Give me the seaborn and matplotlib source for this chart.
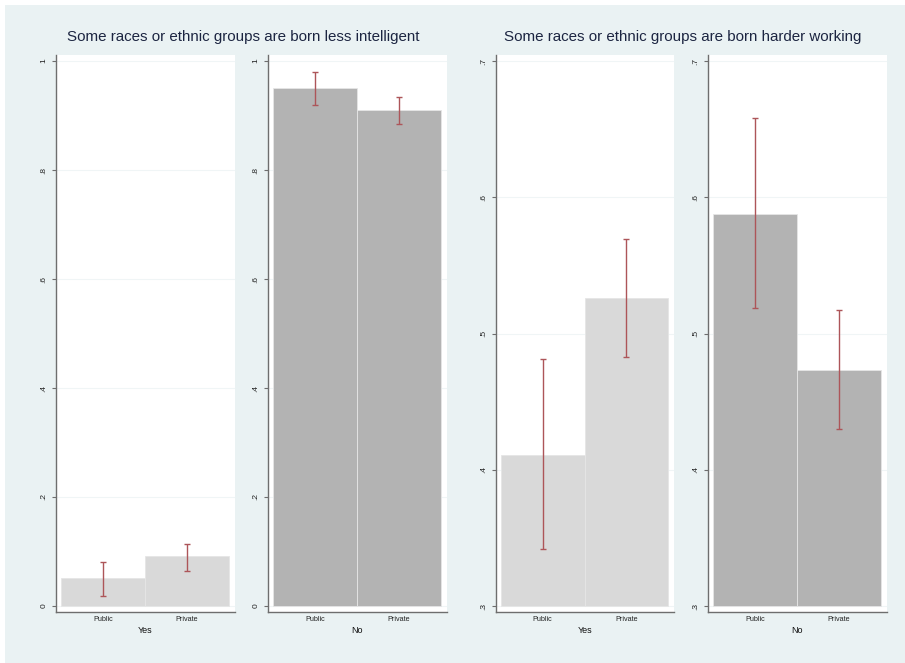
import matplotlib.pyplot as plt
import matplotlib.patches as mpatches
import seaborn as sns
import pandas as pd

sns.set_theme(style="white")
plt.rcParams['font.family'] = ['Liberation Sans', 'DejaVu Sans']

# ----- data -----
sectors = ["Public", "Private"]
titles = ["Some races or ethnic groups are born less intelligent",
          "Some races or ethnic groups are born harder working"]
groups = ["Yes", "No"]

intel_yes = [0.051, 0.091]
intel_yes_lo = [0.019, 0.065]
intel_yes_hi = [0.081, 0.114]
intel_no = [0.950, 0.910]
intel_no_lo = [0.919, 0.884]
intel_no_hi = [0.980, 0.934]

work_yes = [0.411, 0.526]
work_yes_lo = [0.342, 0.483]
work_yes_hi = [0.481, 0.569]
work_no = [0.588, 0.473]
work_no_lo = [0.519, 0.430]
work_no_hi = [0.658, 0.517]

intel_ticks = [0, 0.2, 0.4, 0.6, 0.8, 1.0]
intel_ticklabels = ["0", ".2", ".4", ".6", ".8", "1"]
work_ticks = [0.3, 0.4, 0.5, 0.6, 0.7]
work_ticklabels = [".3", ".4", ".5", ".6", ".7"]

BG = "#eaf2f3"
BAR = {"Yes": "#d9d9d9", "No": "#b3b3b3"}
ERR = "#ad5559"
W, H = 905, 663

fig = plt.figure(figsize=(W / 100, H / 100), dpi=100, facecolor="white")
fig.patches.append(mpatches.Rectangle((5 / W, 0), 1, 1 - 5 / H, transform=fig.transFigure,
                                      facecolor=BG, edgecolor="none", zorder=-10))


def panel(x0, x1, vals, lo, hi, group, ticks, ticklabels, base, top):
    ax = fig.add_axes([x0 / W, (H - 612) / H, (x1 - x0) / W, 557 / H])
    df = pd.DataFrame({"sector": sectors, "value": vals})
    sns.barplot(data=df, x="sector", y="value", order=sectors, color=BAR[group],
                width=1.0, saturation=1, edgecolor="#e6e6e6", linewidth=0.6, ax=ax, zorder=2)
    # bars start at the axis base like Stata
    for p in ax.patches:
        p.set_y(base)
        p.set_height(p.get_height() - base)
    err = [[v - l for v, l in zip(vals, lo)], [h - v for v, h in zip(vals, hi)]]
    ax.errorbar(range(len(sectors)), vals, yerr=err, fmt="none", ecolor=ERR,
                elinewidth=1.0, capsize=2.5, capthick=1.0, zorder=3)
    pad = (top - base) * 6 / 545
    ax.set_ylim(base - pad, top + pad)
    ax.set_xlim(-0.5 - 5 / 84, 1.5 + 6 / 84)
    ax.set_facecolor("white")
    ax.set_yticks(ticks)
    ax.set_yticklabels(ticklabels, rotation=90, va="center", fontsize=6, color="#222222")
    ax.set_xticks(range(len(sectors)))
    ax.set_xticklabels(sectors, fontsize=5.2, color="#222222")
    ax.set_xlabel(group, fontsize=6.5, color="#111111", labelpad=2)
    ax.set_ylabel("")
    ax.yaxis.grid(True, color="#f0f5f6", linewidth=0.8, zorder=0)
    ax.set_axisbelow(True)
    sns.despine(ax=ax, top=True, right=True)
    for s in ["left", "bottom"]:
        ax.spines[s].set_color("#6e6e6e")
        ax.spines[s].set_linewidth(1.0)
    ax.tick_params(axis="y", length=3, width=0.8, color="#6e6e6e", pad=3, left=True)
    ax.tick_params(axis="x", length=0, pad=3)
    return ax


panel(56, 235, intel_yes, intel_yes_lo, intel_yes_hi, "Yes", intel_ticks, intel_ticklabels, 0.0, 1.0)
panel(268, 447, intel_no, intel_no_lo, intel_no_hi, "No", intel_ticks, intel_ticklabels, 0.0, 1.0)
panel(496, 674, work_yes, work_yes_lo, work_yes_hi, "Yes", work_ticks, work_ticklabels, 0.3, 0.7)
panel(708, 887, work_no, work_no_lo, work_no_hi, "No", work_ticks, work_ticklabels, 0.3, 0.7)

fig.text(243 / W, 1 - 37 / H, titles[0], ha="center", va="center", fontsize=10.9, color="#1c2541")
fig.text(683 / W, 1 - 37 / H, titles[1], ha="center", va="center", fontsize=10.9, color="#1c2541")

fig.savefig("out.png", dpi=100, facecolor=fig.get_facecolor())
